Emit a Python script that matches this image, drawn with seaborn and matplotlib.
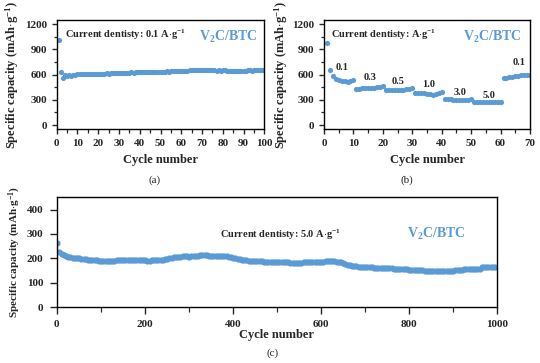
import numpy as np
import pandas as pd
import matplotlib
matplotlib.use("Agg")
import matplotlib.pyplot as plt
import seaborn as sns
from matplotlib.ticker import MultipleLocator

# ---------------- data ----------------
cap_a = [1015, 630, 562, 590, 585, 595, 580, 598, 600, 602,
         603, 605, 604, 607, 612, 608, 606, 610, 608, 611,
         612, 610, 613, 614, 612, 615, 616, 618, 617, 620,
         622, 620, 624, 623, 625, 626, 624, 628, 627, 630,
         629, 631, 630, 632, 634, 630, 633, 635, 634, 636,
         635, 637, 638, 636, 640, 639, 641, 640, 642, 643,
         645, 646, 648, 650, 655, 653, 657, 655, 658, 656,
         660, 655, 652, 654, 650, 652, 648, 650, 646, 655,
         650, 648, 645, 647, 644, 642, 645, 643, 646, 640,
         648, 650, 652, 649, 655, 653, 656, 658, 655, 657]

cap_b = [982, 655, 578, 545, 540, 525, 530, 515, 525, 532,
         432, 435, 438, 440, 440, 443, 445, 450, 455, 462,
         420, 418, 420, 420, 419, 421, 422, 425, 428, 438,
         380, 378, 385, 378, 372, 365, 360, 370, 385, 398,
         308, 306, 305, 304, 303, 303, 302, 303, 304, 306,
         272, 270, 271, 273, 274, 274, 275, 276, 277, 275,
         555, 565, 570, 575, 580, 585, 590, 592, 595, 598]

cap_c = [265, 228, 220, 215, 210, 207, 204, 202, 201, 200,
         200, 199, 197, 196, 195, 194, 193, 192, 192, 191,
         190, 189, 188, 188, 188, 189, 190, 192, 193, 194,
         194, 194, 193, 194, 193, 193, 192, 193, 192, 192,
         192, 191, 191, 192, 192, 193, 192, 193, 195, 196,
         198, 200, 203, 205, 206, 207, 207, 208, 208, 208,
         207, 208, 209, 210, 211, 212, 212, 213, 212, 211,
         211, 210, 210, 209, 209, 210, 210, 209, 207, 205,
         203, 201, 198, 196, 194, 193, 192, 191, 191, 190,
         190, 189, 188, 188, 187, 186, 186, 185, 184, 184,
         185, 185, 184, 185, 184, 184, 183, 183, 181, 180,
         182, 183, 184, 184, 185, 185, 186, 186, 186, 186,
         185, 186, 188, 189, 188, 189, 188, 187, 185, 184,
         182, 179, 175, 172, 170, 168, 167, 166, 165, 165,
         164, 164, 163, 163, 162, 162, 161, 161, 160, 160,
         160, 159, 159, 158, 157, 157, 156, 156, 155, 155,
         154, 153, 153, 152, 152, 151, 151, 150, 150, 150,
         149, 149, 149, 148, 148, 148, 148, 149, 149, 149,
         150, 151, 152, 153, 154, 155, 155, 156, 156, 155,
         156, 155, 155, 163, 165, 166, 165, 164, 165, 165]

rate_labels = ["0.1", "0.3", "0.5", "1.0", "3.0", "5.0", "0.1"]
rate_label_x = [4.0, 13.3, 23.0, 33.2, 44.0, 54.0, 64.0]
rate_label_y = [688, 562, 522, 480, 393, 354, 739]

cyc_a = np.arange(1, len(cap_a) + 1)
cyc_b = np.arange(1, len(cap_b) + 1)
cyc_c = np.arange(1, 1001, 5)[:len(cap_c)]

df_a = pd.DataFrame({"cycle": cyc_a, "cap": cap_a})
df_b = pd.DataFrame({"cycle": cyc_b, "cap": cap_b})
df_c = pd.DataFrame({"cycle": cyc_c, "cap": cap_c})

# ---------------- style ----------------
sns.set_theme(style="ticks")
plt.rcParams["font.family"] = ["Liberation Serif", "DejaVu Serif"]
plt.rcParams["font.weight"] = "bold"
plt.rcParams["axes.labelweight"] = "bold"
plt.rcParams["mathtext.fontset"] = "custom"
plt.rcParams["mathtext.rm"] = "Liberation Serif"
plt.rcParams["mathtext.bf"] = "Liberation Serif:bold"
plt.rcParams["mathtext.it"] = "Liberation Serif:italic"
plt.rcParams["axes.linewidth"] = 1.0
plt.rcParams["xtick.direction"] = "out"
plt.rcParams["ytick.direction"] = "out"

blue = "#5b9bd5"
W, H = 540, 363
fig = plt.figure(figsize=(W / 100, H / 100), dpi=100)

def frac(l, t, r, b):
    return [l / W, 1 - b / H, (r - l) / W, (b - t) / H]

ax_a = fig.add_axes(frac(56.7, 20, 264.3, 129.3))
ax_b = fig.add_axes(frac(324, 20, 530, 129.3))
ax_c = fig.add_axes(frac(56.7, 197.3, 496.7, 307.3))

ylab = r"Specific capacity (mAh$\cdot$g$^{\mathbf{-1}}$)"
tick_fs = 8
lab_fs = 9

def style(ax, xmaj, xmin, ymaj, ymin, length, pad):
    ax.xaxis.set_major_locator(MultipleLocator(xmaj))
    ax.xaxis.set_minor_locator(MultipleLocator(xmin))
    ax.yaxis.set_major_locator(MultipleLocator(ymaj))
    if ymin:
        ax.yaxis.set_minor_locator(MultipleLocator(ymin))
    ax.tick_params(which="major", length=length, width=1.0, labelsize=tick_fs, pad=pad)
    ax.tick_params(which="minor", length=length * 0.7, width=0.9)
    for lab in ax.get_xticklabels() + ax.get_yticklabels():
        lab.set_fontweight("bold")
    for s in ax.spines.values():
        s.set_color("black")

# panel a
sns.scatterplot(data=df_a, x="cycle", y="cap", ax=ax_a, color=blue, s=14, linewidth=0)
ax_a.set_xlim(0, 100)
ax_a.set_ylim(-50, 1250)
style(ax_a, 10, 5, 300, 150, 3.6, 3.5)
ax_a.set_xlabel("Cycle number", fontsize=lab_fs, fontweight="bold", labelpad=4)
ax_a.set_ylabel(ylab, fontsize=lab_fs, fontweight="bold", labelpad=3)
ax_a.text(3.9, 1070, r"Current dentisty: 0.1 A$\cdot$g$^{\mathbf{-1}}$", fontsize=7.5,
          fontweight="bold", va="center", ha="left")
ax_a.text(97, 1045, r"V$_{\mathbf{2}}$C/BTC", fontsize=10, fontweight="bold",
          color=blue, va="center", ha="right")
ax_a.text(0.47, -0.47, "(a)", transform=ax_a.transAxes, ha="center", va="center",
          fontsize=8, fontweight="normal")

# panel b
sns.scatterplot(data=df_b, x="cycle", y="cap", ax=ax_b, color=blue, s=14, linewidth=0)
ax_b.set_xlim(0, 70)
ax_b.set_ylim(-50, 1250)
style(ax_b, 10, 5, 300, 150, 3.6, 3.5)
ax_b.set_xlabel("Cycle number", fontsize=lab_fs, fontweight="bold", labelpad=4)
ax_b.set_ylabel(ylab, fontsize=lab_fs, fontweight="bold", labelpad=1.5)
ax_b.text(2.3, 1078, r"Current dentisty: A$\cdot$g$^{\mathbf{-1}}$", fontsize=7.5,
          fontweight="bold", va="center", ha="left")
ax_b.text(67, 1045, r"V$_{\mathbf{2}}$C/BTC", fontsize=10, fontweight="bold",
          color=blue, va="center", ha="right")
for lbl, lx, ly in zip(rate_labels, rate_label_x, rate_label_y):
    ax_b.text(lx, ly, lbl, fontsize=7.5, fontweight="bold", va="center", ha="left")
ax_b.text(0.4, -0.47, "(b)", transform=ax_b.transAxes, ha="center", va="center",
          fontsize=8, fontweight="normal")

# panel c
sns.scatterplot(data=df_c, x="cycle", y="cap", ax=ax_c, color=blue, s=20, linewidth=0)
ax_c.set_xlim(0, 1000)
ax_c.set_ylim(0, 450)
style(ax_c, 200, 100, 100, None, 5, 4.5)
ax_c.set_xlabel("Cycle number", fontsize=lab_fs, fontweight="bold", labelpad=0)
ax_c.set_ylabel(ylab, fontsize=8, fontweight="bold", labelpad=3)
ax_c.text(371, 298, r"Current dentisty: 5.0 A$\cdot$g$^{\mathbf{-1}}$", fontsize=7.5,
          fontweight="bold", va="center", ha="left")
ax_c.text(862, 302, r"V$_{\mathbf{2}}$C/BTC", fontsize=10, fontweight="bold",
          color=blue, va="center", ha="center")
ax_c.text(0.49, -0.42, "(c)", transform=ax_c.transAxes, ha="center", va="center",
          fontsize=8, fontweight="normal")

fig.savefig("out.png", dpi=100)
